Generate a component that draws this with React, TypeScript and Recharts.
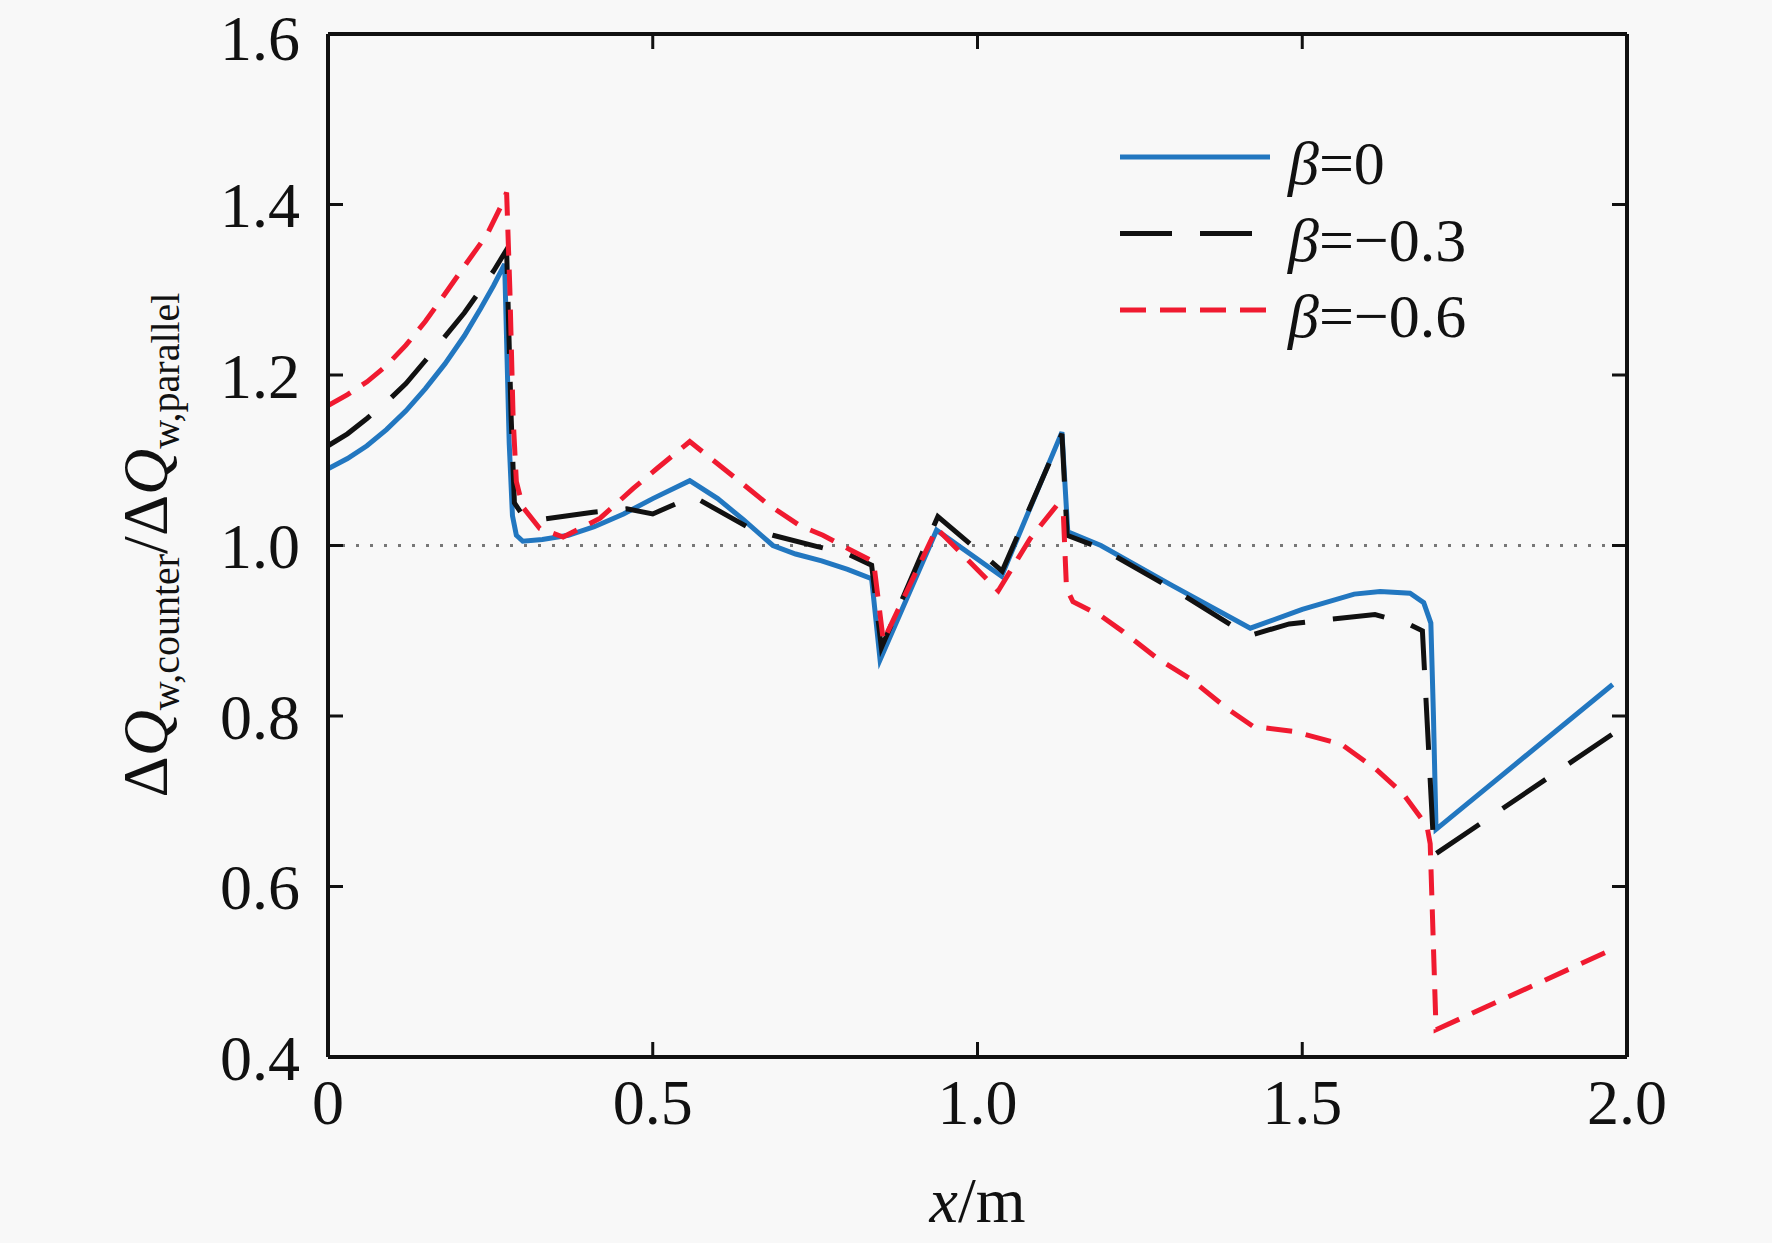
import React from "react"
import { LineChart, Line, XAxis, YAxis, ReferenceLine, Legend } from "recharts"

// [x (m), ΔQw,counter / ΔQw,parallel]
const beta0: [number, number][] = [
  [0, 1.09], [0.03, 1.102], [0.06, 1.117], [0.09, 1.136], [0.12, 1.158], [0.15, 1.184], [0.18, 1.213],
  [0.21, 1.246], [0.235, 1.278], [0.255, 1.305], [0.272, 1.33],
  [0.279, 1.12], [0.284, 1.035], [0.29, 1.012], [0.3, 1.005], [0.33, 1.007], [0.37, 1.012], [0.41, 1.022],
  [0.455, 1.037], [0.5, 1.055], [0.557, 1.076], [0.6, 1.055], [0.64, 1.03], [0.685, 1.0], [0.72, 0.99],
  [0.76, 0.982], [0.8, 0.972], [0.837, 0.961], [0.85, 0.866], [0.937, 1.018], [1.037, 0.964], [1.13, 1.133],
  [1.139, 1.016], [1.19, 1.0], [1.3, 0.953], [1.42, 0.903], [1.5, 0.925], [1.58, 0.943], [1.62, 0.946],
  [1.666, 0.944], [1.687, 0.933], [1.698, 0.909], [1.702, 0.8], [1.706, 0.667], [1.978, 0.837],
]

const betaM03: [number, number][] = [
  [0, 1.117], [0.03, 1.131], [0.06, 1.149], [0.09, 1.168], [0.12, 1.19], [0.15, 1.217], [0.18, 1.245],
  [0.21, 1.273], [0.235, 1.3], [0.255, 1.322], [0.275, 1.347],
  [0.282, 1.15], [0.287, 1.05], [0.3, 1.035], [0.332, 1.031], [0.408, 1.039], [0.46, 1.043],
  [0.5, 1.037], [0.527, 1.046], [0.56, 1.057], [0.573, 1.053], [0.65, 1.02], [0.685, 1.012], [0.752, 0.999],
  [0.8, 0.99], [0.837, 0.977], [0.852, 0.88], [0.939, 1.034], [1.038, 0.97], [1.13, 1.131], [1.138, 1.012],
  [1.19, 0.997], [1.312, 0.944], [1.417, 0.894], [1.48, 0.908], [1.538, 0.913], [1.612, 0.919], [1.661, 0.909],
  [1.685, 0.9], [1.703, 0.637], [1.978, 0.779],
]

const betaM06: [number, number][] = [
  [0, 1.164], [0.03, 1.177], [0.06, 1.192], [0.09, 1.211], [0.12, 1.235], [0.15, 1.263], [0.18, 1.295],
  [0.214, 1.332], [0.245, 1.365], [0.265, 1.396], [0.275, 1.414], [0.28, 1.3], [0.285, 1.15], [0.29, 1.075],
  [0.3, 1.045], [0.326, 1.02],
  [0.362, 1.01], [0.419, 1.032], [0.47, 1.067], [0.506, 1.09], [0.557, 1.122], [0.639, 1.072], [0.676, 1.049],
  [0.727, 1.023], [0.762, 1.012], [0.809, 0.993], [0.84, 0.981], [0.855, 0.888], [0.937, 1.02], [1.032, 0.947],
  [1.081, 1.008], [1.122, 1.047], [1.132, 1.04], [1.137, 0.95], [1.147, 0.934], [1.189, 0.918], [1.224, 0.899],
  [1.276, 0.868], [1.327, 0.844], [1.384, 0.809], [1.424, 0.788], [1.486, 0.782], [1.56, 0.767], [1.613, 0.738],
  [1.655, 0.709], [1.692, 0.671], [1.697, 0.65], [1.706, 0.432], [1.974, 0.525],
]

const xTicks = [0, 0.5, 1, 1.5, 2]
const yTicks = [0.4, 0.6, 0.8, 1.0, 1.2, 1.4, 1.6]
const legendLabels = ["=0", "=\u22120.3", "=\u22120.6"]

const FONT = "'Liberation Serif', 'Times New Roman', serif"
const BLUE = "#2277c0"
const BLACK = "#111111"
const RED = "#f01a30"

const toRows = (pts: [number, number][]) => pts.map(([x, y]) => ({ x, y }))

const series = [
  { key: "b0", data: toRows(beta0), color: BLUE, dash: undefined as string | undefined },
  { key: "b3", data: toRows(betaM03), color: BLACK, dash: "52 28" },
  { key: "b6", data: toRows(betaM06), color: RED, dash: "26 14" },
]

const tickStyle = { fontFamily: FONT, fontSize: 64, fill: "#111" }
const noLabel = () => <g />

function renderLegend() {
  return (
    <svg width={380} height={240}>
      {series.map((s, i) => {
        const cy = 47 + i * 76.5
        return (
          <g key={s.key}>
            <line x1={10} x2={160} y1={cy} y2={cy} stroke={s.color} strokeWidth={5} strokeDasharray={s.dash} />
            <text x={178} y={cy + 27} fontFamily={FONT} fontSize={62} fill="#111">
              <tspan fontStyle="italic">β</tspan>
              <tspan>{legendLabels[i]}</tspan>
            </text>
          </g>
        )
      })}
    </svg>
  )
}

function YLabel(props: any) {
  const vb = props.viewBox || {}
  const x = vb.x + vb.width - 161
  const y = 545
  return (
    <text x={x} y={y} transform={`rotate(-90 ${x} ${y})`} textAnchor="middle" fontFamily={FONT} fontSize={64} fill="#111">
      <tspan>Δ</tspan>
      <tspan fontStyle="italic">Q</tspan>
      <tspan fontSize={40} dy={12}>w,counter</tspan>
      <tspan dy={-12}>/Δ</tspan>
      <tspan fontStyle="italic">Q</tspan>
      <tspan fontSize={40} dy={12}>w,parallel</tspan>
    </text>
  )
}

function XLabel(props: any) {
  const vb = props.viewBox || {}
  const x = vb.x + vb.width / 2
  const y = vb.y + 165
  return (
    <text x={x} y={y} textAnchor="middle" fontFamily={FONT} fontSize={64} fill="#111">
      <tspan fontStyle="italic">x</tspan>
      <tspan>/m</tspan>
    </text>
  )
}

export default function App() {
  return (
    <div style={{ position: "absolute", left: 0, top: 0, width: 1772, height: 1243, background: "#f8f8f8" }}>
      <LineChart width={1772} height={1243} margin={{ top: 24, right: 135, bottom: 106, left: 228 }}>
        <XAxis
          xAxisId={0}
          type="number"
          dataKey="x"
          domain={[0, 2]}
          allowDataOverflow
          ticks={xTicks}
          tickFormatter={(v: number) => (v === 0 ? "0" : v.toFixed(1))}
          height={80}
          tickSize={-15}
          tickMargin={37}
          tick={tickStyle}
          axisLine={{ stroke: "#111", strokeWidth: 4 }}
          tickLine={{ stroke: "#111", strokeWidth: 3 }}
          label={<XLabel />}
        />
        <XAxis
          xAxisId="top"
          orientation="top"
          type="number"
          dataKey="x"
          domain={[0, 2]}
          allowDataOverflow
          ticks={xTicks}
          height={10}
          tickSize={-15}
          tick={noLabel}
          axisLine={{ stroke: "#111", strokeWidth: 4 }}
          tickLine={{ stroke: "#111", strokeWidth: 3 }}
        />
        <YAxis
          yAxisId={0}
          type="number"
          domain={[0.4, 1.6]}
          allowDataOverflow
          ticks={yTicks}
          tickFormatter={(v: number) => v.toFixed(1)}
          width={100}
          tickSize={-15}
          tickMargin={43}
          tick={tickStyle}
          axisLine={{ stroke: "#111", strokeWidth: 4 }}
          tickLine={{ stroke: "#111", strokeWidth: 3 }}
          label={<YLabel />}
        />
        <YAxis
          yAxisId="right"
          orientation="right"
          type="number"
          domain={[0.4, 1.6]}
          allowDataOverflow
          ticks={yTicks}
          width={10}
          tickSize={-15}
          tick={noLabel}
          axisLine={{ stroke: "#111", strokeWidth: 4 }}
          tickLine={{ stroke: "#111", strokeWidth: 3 }}
        />
        <ReferenceLine y={1} stroke="#777" strokeWidth={3} strokeDasharray="3 11" />
        {series.map((s) => (
          <Line
            key={s.key}
            data={s.data}
            dataKey="y"
            type="linear"
            stroke={s.color}
            strokeWidth={5}
            strokeDasharray={s.dash}
            dot={false}
            activeDot={false}
            isAnimationActive={false}
          />
        ))}
        <Legend
          layout="vertical"
          align="center"
          verticalAlign="middle"
          wrapperStyle={{ left: 1110, top: 110, width: 380, height: 240 }}
          content={renderLegend}
        />
      </LineChart>
    </div>
  )
}
